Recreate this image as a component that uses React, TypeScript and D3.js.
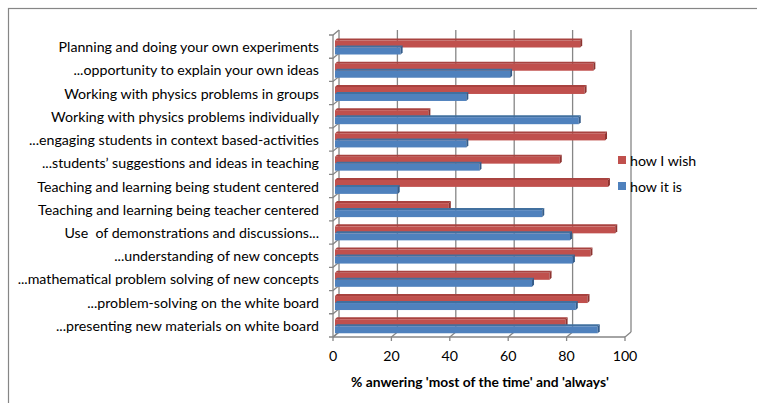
import React from 'react';
import * as d3 from 'd3';

const categories = [
  'Planning and doing your own experiments',
  '...opportunity to explain your own ideas',
  'Working with physics problems in groups',
  'Working with physics problems individually',
  '...engaging students in context based-activities',
  '...students\u2019 suggestions and ideas in teaching',
  'Teaching and learning being student centered',
  'Teaching and learning being teacher centered',
  'Use  of demonstrations and discussions...',
  '...understanding of new concepts',
  '...mathematical problem solving of new concepts',
  '...problem-solving on the white board',
  '...presenting new materials on white board',
];
const howIWish = [85, 89.5, 86.5, 33, 93.5, 78, 94.5, 40, 97, 88.5, 74.5, 87.5, 80];
const howItIs = [23.5, 61, 46, 84.5, 46, 50.5, 22.5, 72, 81.5, 82.5, 68.5, 83.5, 91];
const xTicks = [0, 20, 40, 60, 80, 100];

const series = [
  { name: 'how I wish', values: howIWish, front: '#C0504D', top: '#A8423F', side: '#8E3330' },
  { name: 'how it is', values: howItIs, front: '#4F81BD', top: '#41709F', side: '#345C8A' },
];

const W = 757;
const H = 403;
const DX = 6; // depth offset of back wall
const DY = -5;
const font = 'Lato, "Open Sans", sans-serif';
const grid = '#868686';

export default function App() {
  // front plane
  const x = d3.scaleLinear().domain([0, 100]).range([333, 625]);
  const y = d3.scaleBand<string>().domain(categories).range([35, 337]);
  const backTop = 30;
  const floorY = 337;
  const barH = 7;
  const topD = 2;

  return (
    <svg width={W} height={H} style={{ position: 'absolute', left: 0, top: 0, display: 'block', background: '#fff' }}>
      <rect x={8.5} y={8.5} width={W + 20} height={H + 20} fill="none" stroke={grid} strokeWidth={1.2} />
      {/* back wall gridlines + floor */}
      {xTicks.map((t) => (
        <g key={t} stroke={grid} strokeWidth={1.3} fill="none">
          <line x1={x(t) + DX} x2={x(t) + DX} y1={backTop} y2={floorY + DY} />
          <polyline points={`${x(t) + DX},${floorY + DY} ${x(t)},${floorY} ${x(t)},${floorY + 4}`} />
        </g>
      ))}
      <g stroke={grid} strokeWidth={1.3} fill="none">
        <line x1={x(0)} x2={x(100)} y1={floorY} y2={floorY} />
        <line x1={x(0)} x2={x(0)} y1={y.range()[0]} y2={floorY} />
        {[...categories.map((c) => y(c)!), floorY].map((v, i) => (
          <polyline key={i} points={`${x(0) - 4},${v} ${x(0)},${v} ${x(0) + DX},${v + DY}`} />
        ))}
      </g>
      {/* bars */}
      {categories.map((c, i) => {
        const y0 = y(c)! + 3.5;
        return (
          <g key={c}>
            {series.map((s, k) => {
              const fy = y0 + topD + k * barH;
              const x0 = x(0) + 2;
              const x1 = x(s.values[i]) - 1;
              return (
                <g key={s.name}>
                  <polygon
                    points={`${x0},${fy} ${x0 + topD},${fy - topD} ${x1 + topD},${fy - topD} ${x1},${fy}`}
                    fill={s.top}
                  />
                  <rect x={x0} y={fy} width={x1 - x0} height={barH} fill={s.front} />
                  <polygon
                    points={`${x1},${fy} ${x1 + topD},${fy - topD} ${x1 + topD},${fy + barH - topD} ${x1},${fy + barH}`}
                    fill={s.side}
                  />
                </g>
              );
            })}
          </g>
        );
      })}
      {/* category labels */}
      {categories.map((c) => (
        <text
          key={c}
          x={319}
          y={y(c)! + y.bandwidth() / 2}
          textAnchor="end"
          dominantBaseline="central"
          fontFamily={font}
          fontSize={14.2}
          fill="#000"
          style={{ whiteSpace: 'pre' }}
        >
          {c}
        </text>
      ))}
      {/* x tick labels */}
      {xTicks.map((t) => (
        <text key={t} x={x(t)} y={355} textAnchor="middle" dominantBaseline="central" fontFamily={font} fontSize={14.2} fill="#000">
          {t}
        </text>
      ))}
      <text x={480} y={381} textAnchor="middle" dominantBaseline="central" fontFamily={font} fontSize={13.8} fontWeight="bold" fill="#000">
        % anwering 'most of the time' and 'always'
      </text>
      {/* legend */}
      {series.map((s, k) => (
        <g key={s.name} transform={`translate(618, ${156 + k * 26})`}>
          <rect x={0} y={0} width={8} height={8} fill={s.front} />
          <text x={12} y={4} dominantBaseline="central" fontFamily={font} fontSize={14.2} fill="#000">
            {s.name}
          </text>
        </g>
      ))}
    </svg>
  );
}
